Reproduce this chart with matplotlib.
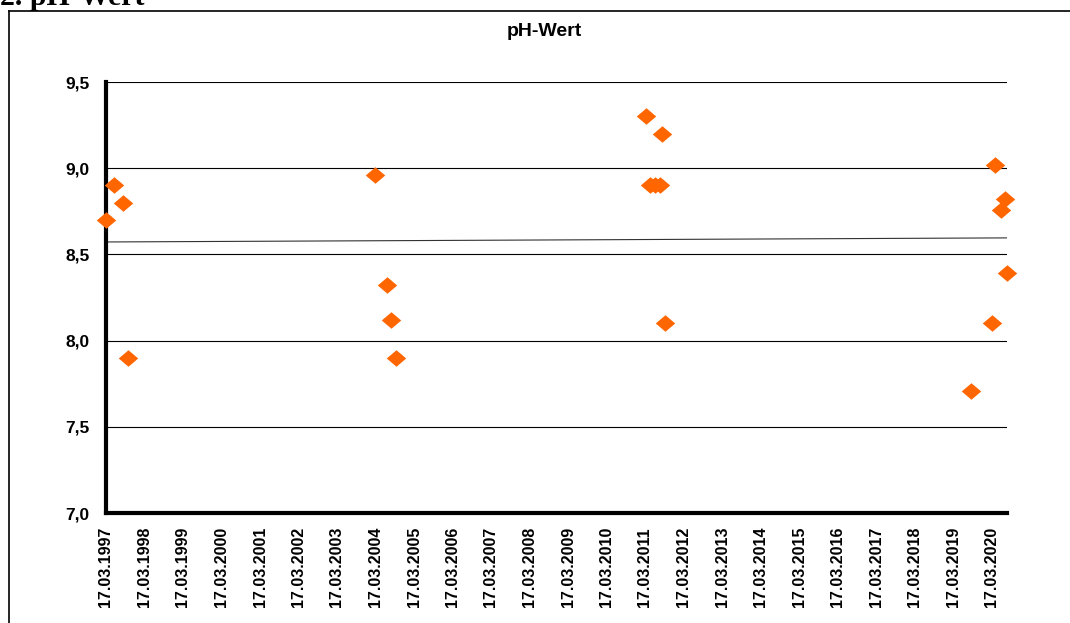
import numpy as np
import pandas as pd
import matplotlib
matplotlib.use("Agg")
import matplotlib.pyplot as plt
import matplotlib.dates as mdates
from matplotlib.lines import Line2D

# Messwerte pH
dates = ["1997-03-17", "1997-06-02", "1997-08-25", "1997-10-12",
         "2004-03-10", "2004-07-01", "2004-08-10", "2004-09-27",
         "2011-03-24", "2011-05-01", "2011-06-17", "2011-08-04", "2011-08-22", "2011-09-20",
         "2019-08-30", "2020-03-17", "2020-04-15", "2020-06-10", "2020-07-18", "2020-08-10"]
ph = [8.70, 8.90, 8.80, 7.90,
      8.96, 8.32, 8.12, 7.90,
      9.30, 8.90, 8.90, 8.90, 9.20, 8.10,
      7.71, 8.10, 9.02, 8.76, 8.82, 8.39]
tick_years = list(range(1997, 2021))

d = pd.to_datetime(dates)
x = mdates.date2num(d)

plt.rcParams["font.family"] = ["Liberation Sans", "DejaVu Sans"]

fig = plt.figure(figsize=(10.70, 6.23), dpi=100)
W, H = 1070, 623
ax = fig.add_axes([106 / W, 1 - 513 / H, (1007 - 106) / W, (513 - 82) / H])

# Rahmen des Diagrammbereichs
fig.add_artist(Line2D([9 / W, 1.0], [1 - 10.5 / H, 1 - 10.5 / H], color="black", lw=1.2))
fig.add_artist(Line2D([9 / W, 9 / W], [1 - 10.5 / H, 0], color="black", lw=1.2))

# Überschrift (oben abgeschnitten wie im Original)
fig.text(0.0, 1 - 5 / H, "2. pH-Wert", family="Liberation Serif", fontweight="bold",
         fontsize=21.5, ha="left", va="baseline")
fig.text(544 / W, 1 - 32 / H, "pH-Wert", fontweight="bold", fontsize=14,
         ha="center", va="center")

# Gitterlinien
for yv in [7.5, 8.0, 8.5, 9.0, 9.5]:
    ax.axhline(yv, color="black", lw=0.8, zorder=1)

# Trendlinie
k, b = np.polyfit(x, ph, 1)
xl = np.array([mdates.date2num(pd.Timestamp("1997-03-17")), x.max()])
ax.plot(xl, k * xl + b, color="#333333", lw=0.8, zorder=2)

diamond = [(-1, 0), (0, 0.85), (1, 0), (0, -0.85), (-1, 0)]
ax.plot(x, ph, linestyle="none", marker=diamond, markersize=14, color="#FF6600",
        markeredgewidth=0, zorder=3, clip_on=False)

ax.set_ylim(7.0, 9.5)
ax.set_xlim(mdates.date2num(pd.Timestamp("1997-03-17")), x.max())
ax.set_yticks([7.0, 7.5, 8.0, 8.5, 9.0, 9.5])
ax.set_yticklabels([f"{v:.1f}".replace(".", ",") for v in [7.0, 7.5, 8.0, 8.5, 9.0, 9.5]])
ticks = [mdates.date2num(pd.Timestamp(f"{y}-03-17")) for y in tick_years]
ax.set_xticks(ticks)
ax.set_xticklabels([f"17.03.{y}" for y in tick_years], rotation=90)
for lab in ax.get_xticklabels():
    lab.set_fontweight("bold")
    lab.set_fontsize(11.5)
for lab in ax.get_yticklabels():
    lab.set_fontweight("bold")
    lab.set_fontsize(12.5)
ax.tick_params(axis="y", length=0, pad=12)
ax.tick_params(axis="x", length=0, pad=10)

for s in ["top", "right"]:
    ax.spines[s].set_visible(False)
ax.spines["left"].set_linewidth(3)
ax.spines["bottom"].set_linewidth(3)

fig.savefig("out.png", dpi=100)
